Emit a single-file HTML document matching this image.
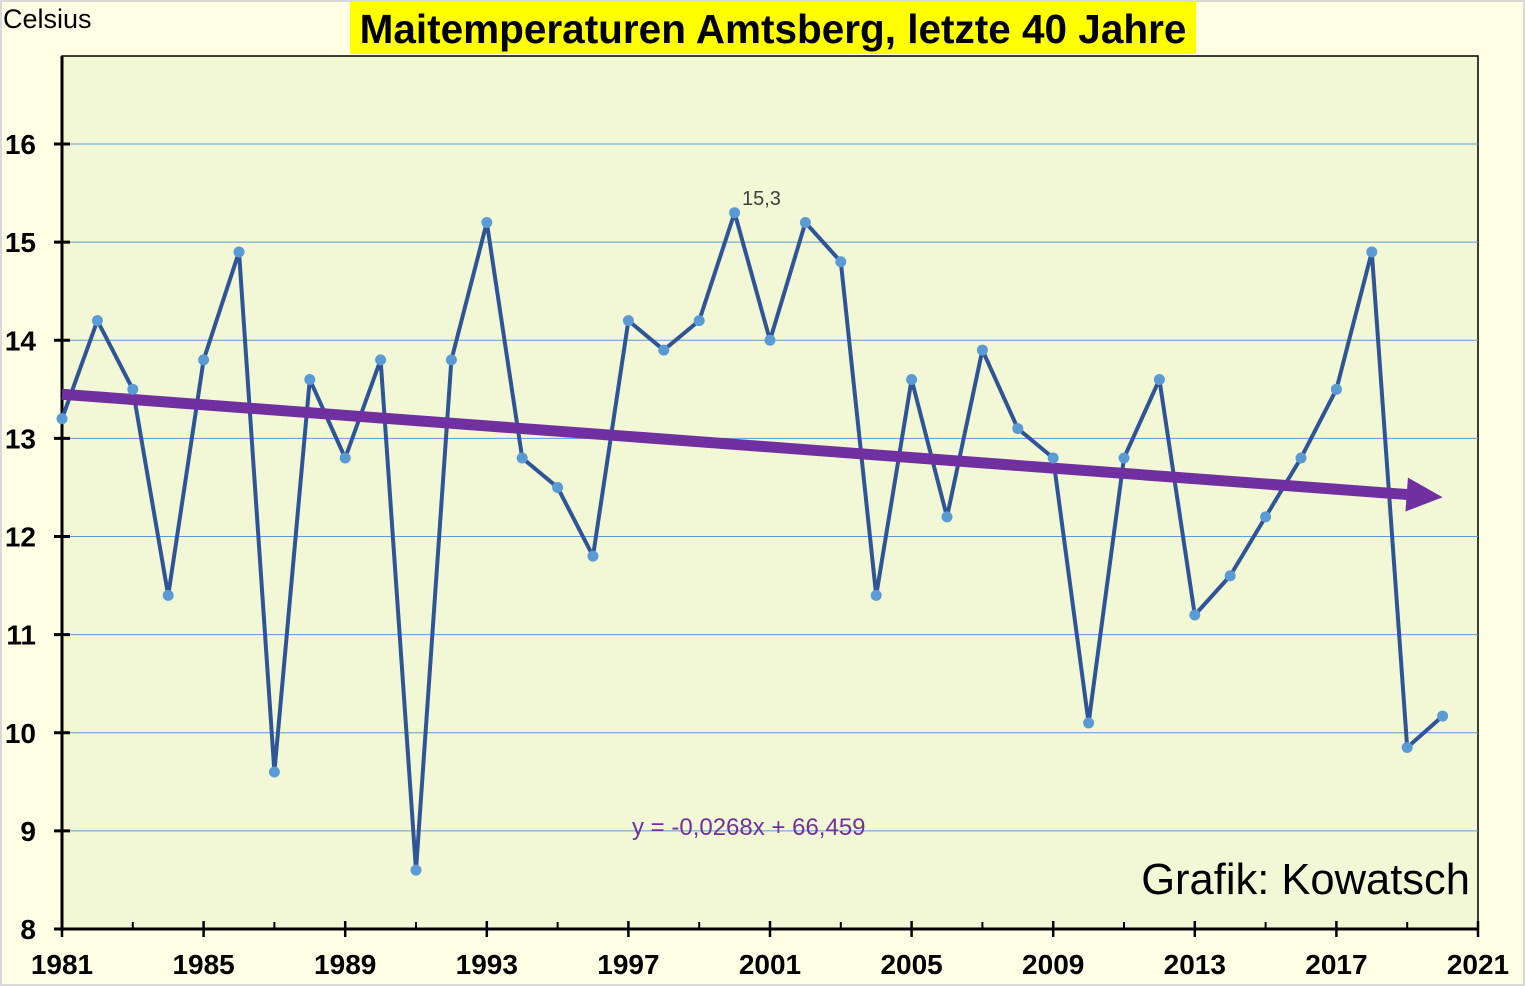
<!DOCTYPE html>
<html><head><meta charset="utf-8"><style>
body{margin:0;background:#FFFFE6;}
svg{display:block;font-family:"Liberation Sans",Arial,sans-serif;}
</style></head><body>
<svg id="chart" width="1525" height="986" viewBox="0 0 1525 986">
<rect x="1" y="1" width="1523" height="984" fill="#FFFFE6" stroke="#d9d9d9" stroke-width="2"/>
<rect x="62" y="56" width="1416" height="873" fill="#F2F8D6" stroke="#000" stroke-width="1.5"/>
<text x="3" y="28" font-size="27" fill="#000">Celsius</text>
<rect x="350" y="2" width="846" height="52" fill="#FFFF00"/>
<text x="773" y="43" font-size="40.5" font-weight="bold" text-anchor="middle" fill="#000">Maitemperaturen Amtsberg, letzte 40 Jahre</text>
<g id="grid"></g>
<g id="axes"></g>
<g id="series"></g>
<text x="632" y="835" font-size="24" fill="#7030A0">y = -0,0268x + 66,459</text>
<text x="742" y="205" font-size="20" fill="#404040">15,3</text>
<text x="1470" y="894" font-size="43.5" text-anchor="end" fill="#000">Grafik: Kowatsch</text>
</svg>
<script>
const years=[1981,1982,1983,1984,1985,1986,1987,1988,1989,1990,1991,1992,1993,1994,1995,1996,1997,1998,1999,2000,2001,2002,2003,2004,2005,2006,2007,2008,2009,2010,2011,2012,2013,2014,2015,2016,2017,2018,2019,2020];
const temps=[13.2,14.2,13.5,11.4,13.8,14.9,9.6,13.6,12.8,13.8,8.6,13.8,15.2,12.8,12.5,11.8,14.2,13.9,14.2,15.3,14.0,15.2,14.8,11.4,13.6,12.2,13.9,13.1,12.8,10.1,12.8,13.6,11.2,11.6,12.2,12.8,13.5,14.9,9.85,10.17];
const yTicks=[8,9,10,11,12,13,14,15,16];
const xTicks=[1981,1985,1989,1993,1997,2001,2005,2009,2013,2017,2021];
const trendYears=[1981,2020];
const trendValues=[13.45,12.40];
const NS='http://www.w3.org/2000/svg';
const X=v=>62+(v-1981)*(1416/40);
const Y=v=>929-(v-8)*98.125;
function mk(tag,attrs,parent){const e=document.createElementNS(NS,tag);for(const k in attrs)e.setAttribute(k,attrs[k]);parent.appendChild(e);return e;}
const grid=document.getElementById('grid'),axes=document.getElementById('axes'),series=document.getElementById('series');
yTicks.forEach(t=>{
  if(t>8){const g=mk('line',{x1:62,x2:1478,y1:Y(t),y2:Y(t),stroke:'#5B9BD5','stroke-width':1},grid);
  
  }
  const tk=mk('line',{x1:54,x2:70,y1:Y(t),y2:Y(t),stroke:'#000','stroke-width':3},axes);
  
  
  const lb=mk('text',{x:36,y:Y(t)+10,'font-size':28,'font-weight':'bold','text-anchor':'end'},axes);
  lb.textContent=t;
  
  
});
for(let yr=1983;yr<2021;yr+=4){const m=mk('line',{x1:X(yr),x2:X(yr),y1:922,y2:929,stroke:'#000','stroke-width':2},axes);
  
  }
xTicks.forEach(t=>{
  const tk=mk('line',{x1:X(t),x2:X(t),y1:921,y2:937,stroke:'#000','stroke-width':2.5},axes);
  
  
  const lb=mk('text',{x:X(t),y:974,'font-size':28,'font-weight':'bold','text-anchor':'middle'},axes);
  lb.textContent=t;
  
  
});
const ya=mk('line',{x1:62,x2:62,y1:56,y2:931,stroke:'#000','stroke-width':3},axes);


const xa=mk('line',{x1:60,x2:1478,y1:929,y2:929,stroke:'#000','stroke-width':3},axes);


const pts=years.map((y,i)=>X(y)+','+Y(temps[i])).join(' ');
const line=mk('polyline',{points:pts,fill:'none',stroke:'#2F5597','stroke-width':4,'stroke-linejoin':'round'},series);


// trend arrow: tip at end point
const tx1=X(trendYears[0]),ty1=Y(trendValues[0]),tx2=X(trendYears[1]),ty2=Y(trendValues[1]);
const ang=Math.atan2(ty2-ty1,tx2-tx1),hl=36,hw=17;
const base=[tx2-Math.cos(ang)*hl,ty2-Math.sin(ang)*hl];
const tl=mk('line',{x1:tx1,y1:ty1,x2:base[0]+1,y2:base[1],stroke:'#7030A0','stroke-width':11},series);


const px=-Math.sin(ang),py=Math.cos(ang);
const head=mk('polygon',{points:`${tx2},${ty2} ${base[0]+px*hw},${base[1]+py*hw} ${base[0]-px*hw},${base[1]-py*hw}`,fill:'#7030A0'},series);


years.forEach((y,i)=>{const c=mk('circle',{cx:X(y),cy:Y(temps[i]),r:5.5,fill:'#5B9BD5'},series);
  
  });
</script>
</body></html>
